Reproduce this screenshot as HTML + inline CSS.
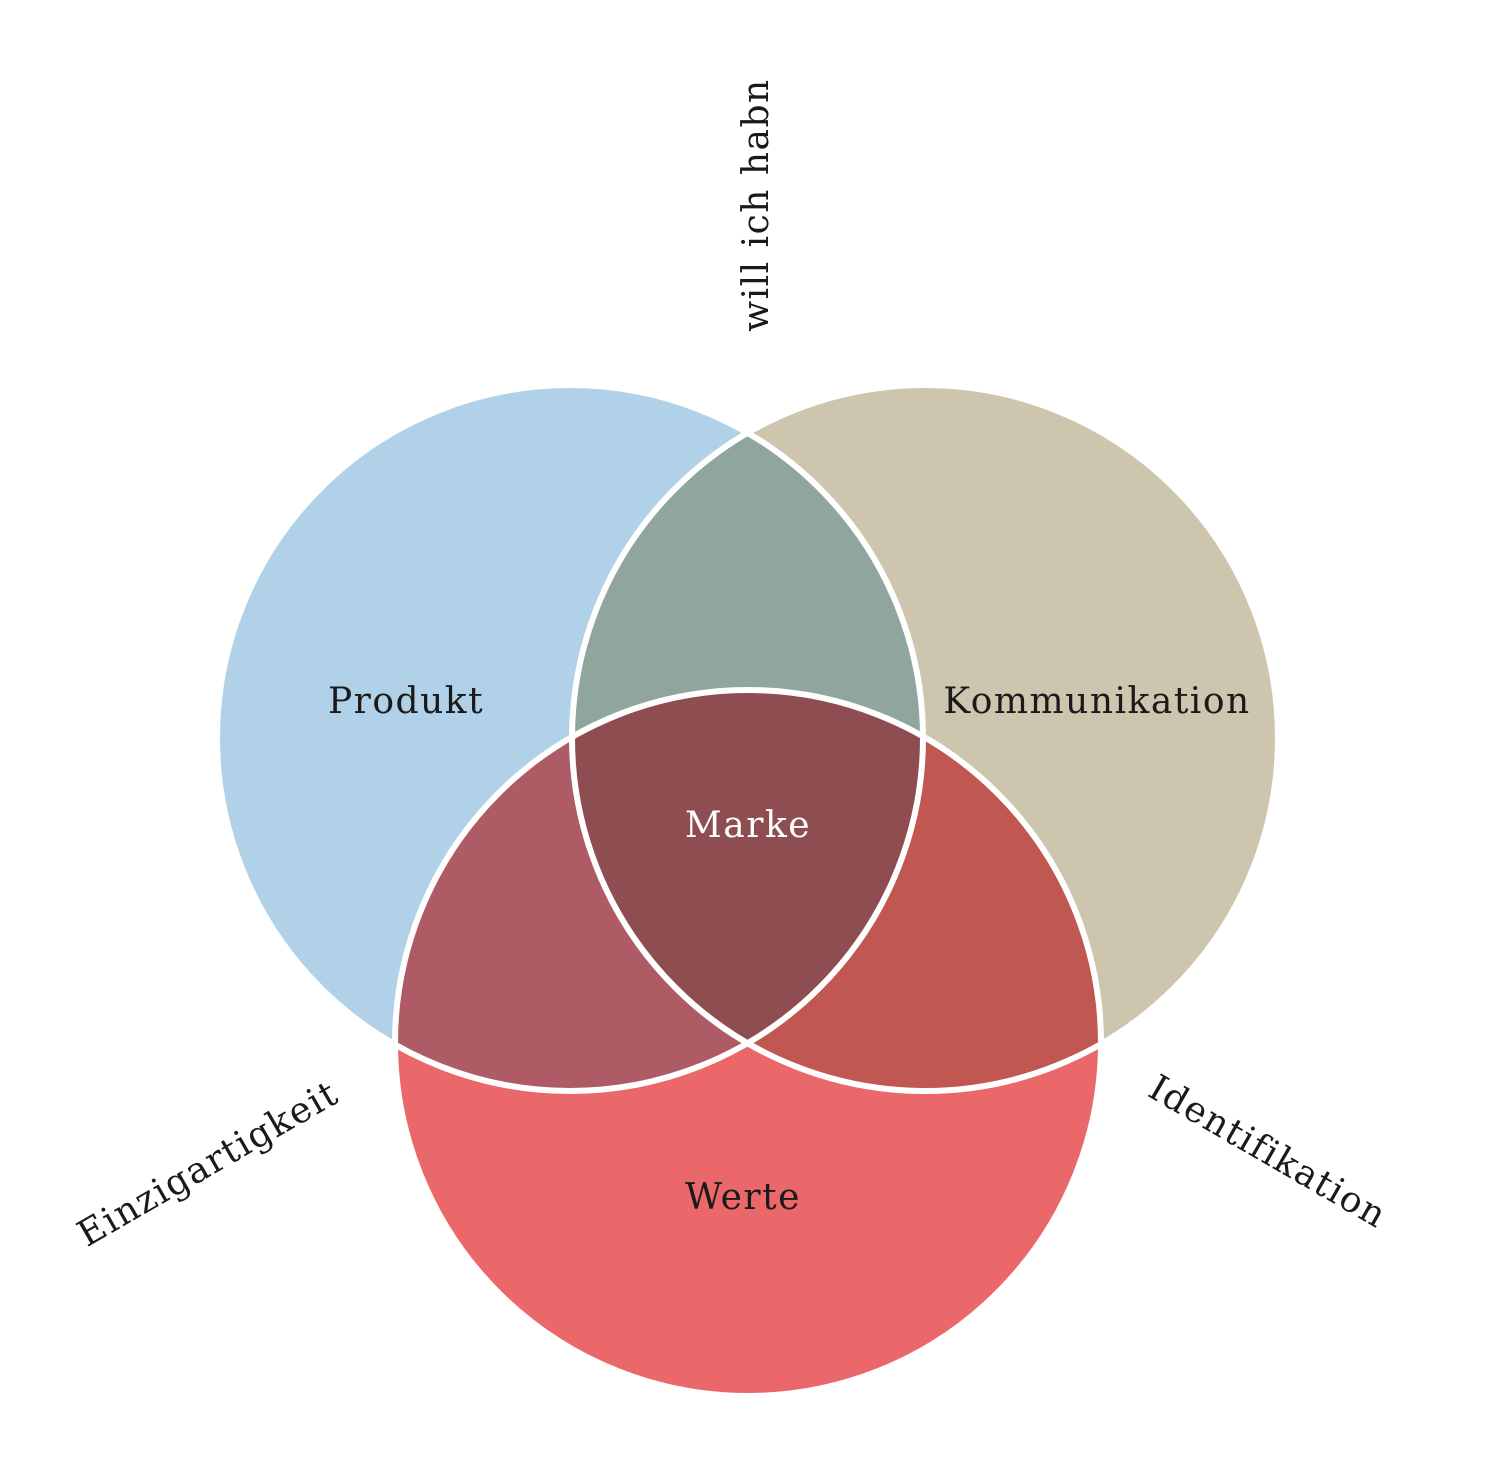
<!DOCTYPE html>
<html><head><meta charset="utf-8"><style>
html,body{margin:0;padding:0;background:#fff;}
svg{display:block;}
text{font-family:"DejaVu Serif","Liberation Serif",serif;font-size:36px;letter-spacing:1.5px;fill:#1a1a1a;}
</style></head><body>
<svg width="1500" height="1478" viewBox="0 0 1500 1478" xmlns="http://www.w3.org/2000/svg">
<defs>
<clipPath id="cA"><circle cx="570" cy="738" r="353"/></clipPath>
<clipPath id="cB"><circle cx="925" cy="738" r="353"/></clipPath>
</defs>
<circle cx="570" cy="738" r="353" fill="#b0d1e7"/>
<circle cx="925" cy="738" r="353" fill="#cdc5ae"/>
<circle cx="748" cy="1043" r="353" fill="#ea676a"/>
<g clip-path="url(#cA)"><circle cx="925" cy="738" r="353" fill="#91a59f"/><circle cx="748" cy="1043" r="353" fill="#ae5b65"/></g>
<g clip-path="url(#cB)"><circle cx="748" cy="1043" r="353" fill="#c05750"/></g>
<g clip-path="url(#cA)"><g clip-path="url(#cB)"><circle cx="748" cy="1043" r="353" fill="#8e4d50"/></g></g>
<g fill="none" stroke="#fff" stroke-width="6">
<circle cx="570" cy="738" r="353"/>
<circle cx="925" cy="738" r="353"/>
<circle cx="748" cy="1043" r="353"/>
</g>
<text x="406" y="713" text-anchor="middle">Produkt</text>
<text x="1097" y="713" text-anchor="middle">Kommunikation</text>
<text x="748" y="837" text-anchor="middle" style="fill:#fff">Marke</text>
<text x="743" y="1209" text-anchor="middle">Werte</text>
<text transform="translate(768,205) rotate(-90)" text-anchor="middle">will ich habn</text>
<text transform="translate(214,1174) rotate(-30)" text-anchor="middle">Einzigartigkeit</text>
<text transform="translate(1262,1162) rotate(30)" text-anchor="middle">Identifikation</text>
</svg>
</body></html>
